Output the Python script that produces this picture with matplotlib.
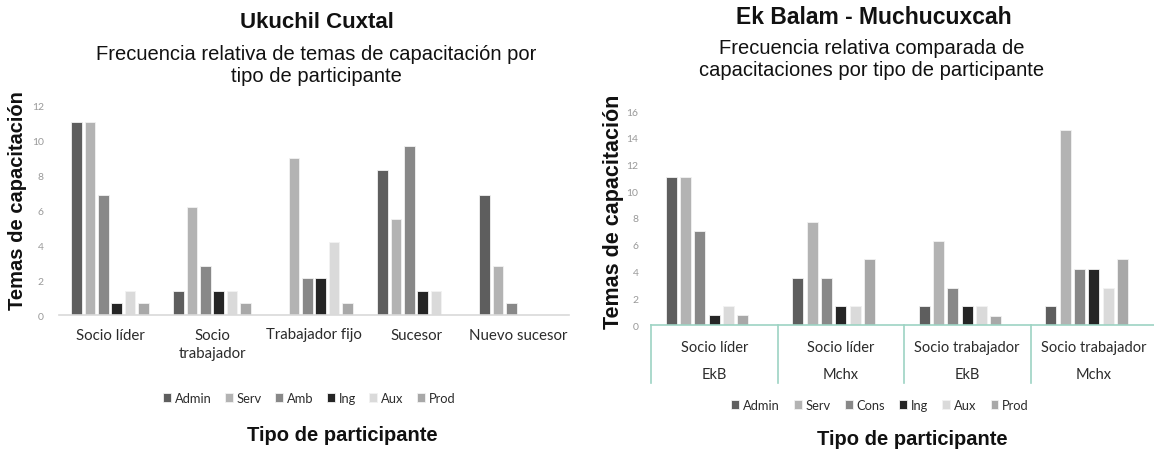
import matplotlib
matplotlib.use("Agg")
import matplotlib.pyplot as plt
import matplotlib.transforms as mtransforms
import numpy as np

# ---------------- data ----------------
left_categories = ["Socio líder", "Socio\ntrabajador", "Trabajador fijo", "Sucesor", "Nuevo sucesor"]
left_series = ["Admin", "Serv", "Amb", "Ing", "Aux", "Prod"]
left_admin = [11.1, 1.4, 0.0, 8.3, 6.9]
left_serv = [11.1, 6.2, 9.0, 5.5, 2.8]
left_amb = [6.9, 2.8, 2.1, 9.7, 0.7]
left_ing = [0.7, 1.4, 2.1, 1.4, 0.0]
left_aux = [1.4, 1.4, 4.2, 1.4, 0.0]
left_prod = [0.7, 0.7, 0.7, 0.0, 0.0]
left_yticks = [0, 2, 4, 6, 8, 10, 12]

right_categories = ["Socio líder", "Socio líder", "Socio trabajador", "Socio trabajador"]
right_subcategories = ["EkB", "Mchx", "EkB", "Mchx"]
right_series = ["Admin", "Serv", "Cons", "Ing", "Aux", "Prod"]
right_admin = [11.1, 3.5, 1.4, 1.4]
right_serv = [11.1, 7.7, 6.3, 14.6]
right_cons = [7.0, 3.5, 2.8, 4.2]
right_ing = [0.75, 1.4, 1.4, 4.2]
right_aux = [1.4, 1.4, 1.4, 2.8]
right_prod = [0.75, 4.9, 0.7, 4.9]
right_yticks = [0, 2, 4, 6, 8, 10, 12, 14, 16]

colors = ["#5e5e5e", "#b3b3b3", "#888888", "#252525", "#dadada", "#a8a8a8"]

ARIAL = ["Liberation Sans", "DejaVu Sans"]
CAL = ["Lato", "DejaVu Sans"]

W, H = 1154, 456
fig = plt.figure(figsize=(W / 100, H / 100), dpi=100)


def px_axes(x0, x1, ytop, ybot):
    return fig.add_axes([x0 / W, 1 - ybot / H, (x1 - x0) / W, (ybot - ytop) / H])


# ---------------- left chart ----------------
axL = px_axes(59, 569, 107, 316)
lvals = [left_admin, left_serv, left_amb, left_ing, left_aux, left_prod]
x = np.arange(len(left_categories))
pitch, bw = 0.132, 0.103
n = len(lvals)
for i, (vals, c, name) in enumerate(zip(lvals, colors, left_series)):
    axL.bar(x + (i - (n - 1) / 2) * pitch, vals, width=bw, color=c,
            edgecolor="#f2f2f2", linewidth=0.6, label=name)
axL.set_xlim(-0.5, len(left_categories) - 0.5)
axL.set_ylim(0, 12)
axL.set_yticks(left_yticks)
axL.set_yticklabels([str(t) for t in left_yticks], family=CAL, fontsize=7.5, color="#999999")
axL.set_xticks(x)
axL.set_xticklabels(left_categories, family=CAL, fontsize=10.8, color="#2b2b2b", linespacing=1.45)
axL.tick_params(axis="both", length=0)
axL.tick_params(axis="y", pad=11)
axL.tick_params(axis="x", pad=9)
for s in ["top", "right", "left"]:
    axL.spines[s].set_visible(False)
axL.spines["bottom"].set_color("#d9d9d9")
axL.spines["bottom"].set_linewidth(1.2)

fig.text(317 / W, 1 - 22 / H, "Ukuchil Cuxtal", family=ARIAL, fontweight="bold",
         fontsize=16, ha="center", va="center", color="#111111")
fig.text(316 / W, 1 - 65 / H, "Frecuencia relativa de temas de capacitación por\ntipo de participante",
         family=ARIAL, fontsize=14.5, ha="center", va="center", color="#111111", linespacing=1.2)
fig.text(18 / W, 1 - 201 / H, "Temas de capacitación", family=ARIAL, fontweight="bold",
         fontsize=14.5, rotation=90, ha="center", va="center", color="#111111")
fig.text(342 / W, 1 - 436 / H, "Tipo de participante", family=ARIAL, fontweight="bold",
         fontsize=14.5, ha="center", va="center", color="#111111")
legL = fig.legend(*axL.get_legend_handles_labels(), loc="center", bbox_to_anchor=(309 / W, 1 - 399 / H),
                  ncol=6, frameon=False, handlelength=0.6, handleheight=0.6, handletextpad=0.3,
                  columnspacing=1.05, prop={"family": CAL, "size": 9.3})
for t in legL.get_texts():
    t.set_color("#2b2b2b")

# ---------------- right chart ----------------
axR = px_axes(651, 1157, 112, 326)
rvals = [right_admin, right_serv, right_cons, right_ing, right_aux, right_prod]
xr = np.arange(len(right_categories))
rpitch, rbw = 0.113, 0.087
slots = 7  # excel cluster with one empty slot
for i, (vals, c, name) in enumerate(zip(rvals, colors, right_series)):
    axR.bar(xr + (i - (slots - 1) / 2) * rpitch, vals, width=rbw, color=c,
            edgecolor="#f2f2f2", linewidth=0.6, label=name)
axR.set_xlim(-0.5, len(right_categories) - 0.5)
axR.set_ylim(0, 16)
axR.set_yticks(right_yticks)
axR.set_yticklabels([str(t) for t in right_yticks], family=CAL, fontsize=7.5, color="#999999")
axR.set_xticks([])
axR.tick_params(axis="both", length=0)
axR.tick_params(axis="y", pad=9)
for s in ["top", "right", "left"]:
    axR.spines[s].set_visible(False)
teal = "#9dd3c3"
axR.spines["bottom"].set_color(teal)
axR.spines["bottom"].set_linewidth(1.2)
trans = mtransforms.blended_transform_factory(axR.transData, axR.transAxes)
depth = 58 / 214
for b in np.arange(len(right_categories) + 1) - 0.5:
    axR.plot([b, b], [0, -depth], color=teal, lw=1.2, transform=trans, clip_on=False)
for xi, (cat, sub) in enumerate(zip(right_categories, right_subcategories)):
    axR.text(xi, -22 / 214, cat, transform=trans, ha="center", va="center",
             family=CAL, fontsize=10.5, color="#2b2b2b")
    axR.text(xi, -49 / 214, sub, transform=trans, ha="center", va="center",
             family=CAL, fontsize=10.5, color="#2b2b2b")

fig.text(874 / W, 1 - 18 / H, "Ek Balam - Muchucuxcah", family=ARIAL, fontweight="bold",
         fontsize=16.5, ha="center", va="center", color="#111111")
fig.text(872 / W, 1 - 60 / H, "Frecuencia relativa comparada de\ncapacitaciones por tipo de participante",
         family=ARIAL, fontsize=14.5, ha="center", va="center", color="#111111", linespacing=1.2)
fig.text(614 / W, 1 - 212 / H, "Temas de capacitación", family=ARIAL, fontweight="bold",
         fontsize=15.5, rotation=90, ha="center", va="center", color="#111111")
fig.text(912 / W, 1 - 440 / H, "Tipo de participante", family=ARIAL, fontweight="bold",
         fontsize=14.5, ha="center", va="center", color="#111111")
legR = fig.legend(*axR.get_legend_handles_labels(), loc="center", bbox_to_anchor=(880 / W, 1 - 406 / H),
                  ncol=6, frameon=False, handlelength=0.6, handleheight=0.6, handletextpad=0.3,
                  columnspacing=1.1, prop={"family": CAL, "size": 9.3})
for t in legR.get_texts():
    t.set_color("#2b2b2b")

fig.savefig("out.png", dpi=100)
